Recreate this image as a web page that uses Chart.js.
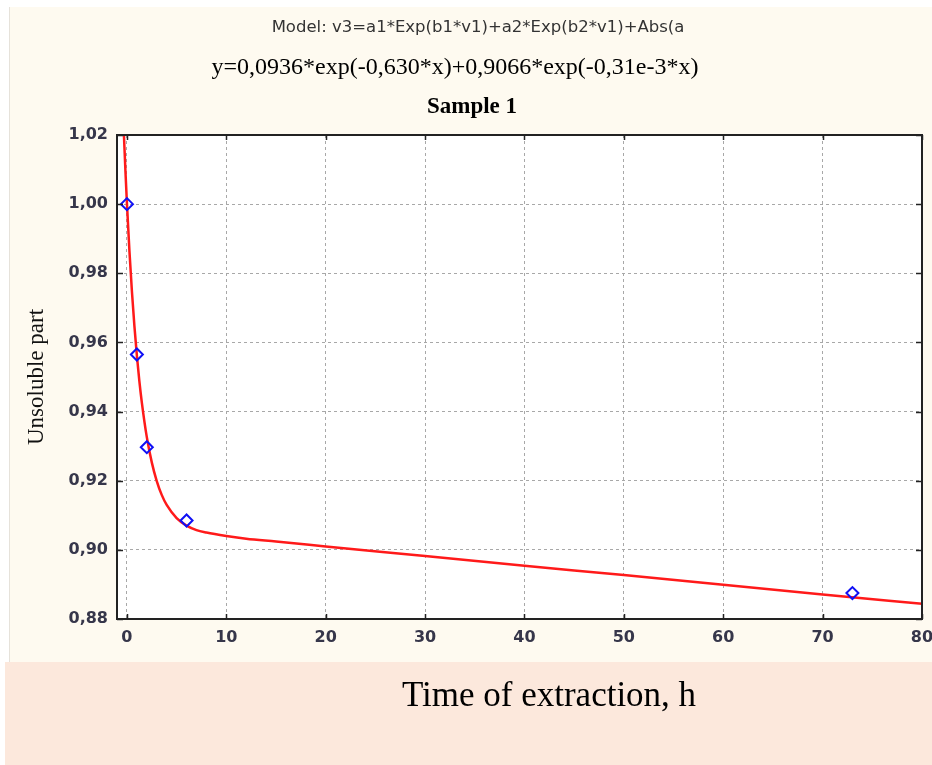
<!DOCTYPE html>
<html>
<head>
<meta charset="utf-8">
<title>Sample 1</title>
<script src="https://cdn.jsdelivr.net/npm/chart.js@4.4.1/dist/chart.umd.min.js"></script>
<style>
  html, body { margin: 0; padding: 0; background: #ffffff; }
  #wrap { width: 932px; height: 765px; position: relative; }
</style>
</head>
<body>
<div id="wrap"><canvas id="myChartSample"></canvas></div>
<script>
// measured points (blue diamonds)
const measuredX = [0, 1, 2, 6, 73];
const measuredY = [1.0, 0.9565, 0.9297, 0.9085, 0.8875];

// fitted curve
const curveX = [-0.3, -0.15, 0, 0.25, 0.5, 0.75, 1, 1.25, 1.5, 2, 2.5, 3, 3.5, 4, 5, 6, 7, 8, 10, 12, 15, 20, 30, 40, 50, 60, 70, 80];
const curveY = [1.0198, 1.0095, 1.0002, 0.9865, 0.9748, 0.9648, 0.9562, 0.9488, 0.9426, 0.9326, 0.9253, 0.9199, 0.9159, 0.913, 0.9092, 0.907, 0.9057, 0.905, 0.904, 0.9032, 0.9024, 0.901, 0.8982, 0.8954, 0.8927, 0.8899, 0.8871, 0.8844];

// tick labels
const xTicks = [0, 10, 20, 30, 40, 50, 60, 70, 80];
const yTicks = [0.88, 0.9, 0.92, 0.94, 0.96, 0.98, 1.0, 1.02];

const modelText = "Model: v3=a1*Exp(b1*v1)+a2*Exp(b2*v1)+Abs(a";
const equationText = "y=0,0936*exp(-0,630*x)+0,9066*exp(-0,31e-3*x)";
const sampleText = "Sample 1";
const xTitle = "Time of extraction, h";
const yTitle = "Unsoluble part";

const ctxSample = document.getElementById("myChartSample").getContext("2d");

/*------------------------------------------
fondos: papel crema, banda salmon abajo, area blanca
-------------------------------------------*/
const backgroundPlugin = {
  id: "backgroundPlugin",
  beforeDraw(chart) {
    const ctx = chart.ctx;
    const a = chart.chartArea;
    ctx.save();
    ctx.fillStyle = "#ffffff";
    ctx.fillRect(0, 0, chart.width, chart.height);
    ctx.fillStyle = "#fefaf0";
    ctx.fillRect(9, 7, chart.width - 9, 655);
    ctx.fillStyle = "#e6e2da";
    ctx.fillRect(9, 7, 1, 655);
    ctx.fillStyle = "#fce8dc";
    ctx.fillRect(5, 662, chart.width - 5, chart.height - 662);
    ctx.fillStyle = "#ffffff";
    ctx.fillRect(a.left, a.top, a.right - a.left, a.bottom - a.top);
    ctx.restore();
  },
};

/*------------------------------------------
marco, ticks hacia adentro y textos
-------------------------------------------*/
const framePlugin = {
  id: "framePlugin",
  afterDraw(chart) {
    const ctx = chart.ctx;
    const a = chart.chartArea;
    const xs = chart.scales.x;
    const ys = chart.scales.y;
    ctx.save();
    ctx.strokeStyle = "#222222";
    ctx.lineWidth = 2;
    ctx.beginPath();
    ctx.moveTo(a.left, a.top);
    ctx.lineTo(a.right, a.top);
    ctx.lineTo(a.right, a.bottom);
    ctx.stroke();

    ctx.lineWidth = 1.5;
    ctx.beginPath();
    xTicks.forEach((v) => {
      const px = Math.round(xs.getPixelForValue(v)) + 0.5;
      ctx.moveTo(px, a.bottom);
      ctx.lineTo(px, a.bottom - 5);
      ctx.moveTo(px, a.top);
      ctx.lineTo(px, a.top + 5);
    });
    yTicks.forEach((v) => {
      const py = Math.round(ys.getPixelForValue(v)) + 0.5;
      ctx.moveTo(a.left, py);
      ctx.lineTo(a.left + 6, py);
      ctx.moveTo(a.right, py);
      ctx.lineTo(a.right - 6, py);
    });
    ctx.stroke();

    ctx.textAlign = "center";
    ctx.textBaseline = "middle";
    ctx.fillStyle = "#333333";
    ctx.font = "16.5px 'DejaVu Sans'";
    ctx.fillText(modelText, 478, 28);
    ctx.fillStyle = "#000000";
    ctx.font = "24px 'Liberation Serif'";
    ctx.fillText(equationText, 455, 68);
    ctx.font = "bold 23px 'Liberation Serif'";
    ctx.fillText(sampleText, 472, 107);
    ctx.font = "35px 'Liberation Serif'";
    ctx.fillText(xTitle, 549, 697);
    ctx.restore();
  },
};

const myChartSample = new Chart(ctxSample, {
  type: "scatter",
  data: {
    datasets: [
      {
        label: "Sample 1",
        data: measuredX.map((x, i) => ({ x: x, y: measuredY[i] })),
        pointStyle: "rectRot",
        pointRadius: 6,
        pointBorderWidth: 2,
        pointBorderColor: "#1010f5",
        pointBackgroundColor: "rgba(0,0,0,0)",
        showLine: false,
      },
      {
        label: "Model",
        data: curveX.map((x, i) => ({ x: x, y: curveY[i] })),
        showLine: true,
        borderColor: "#ff1a1a",
        borderWidth: 2.5,
        pointRadius: 0,
        cubicInterpolationMode: "monotone",
      },
    ],
  },
  options: {
    responsive: true,
    maintainAspectRatio: false,
    animation: false,
    layout: {
      padding: { top: 135, right: 10, left: 0, bottom: 0 },
    },
    plugins: {
      legend: { display: false },
      tooltip: { enabled: false },
    },
    scales: {
      x: {
        type: "linear",
        min: -1,
        max: 80,
        afterBuildTicks: (scale) => {
          scale.ticks = xTicks.map((v) => ({ value: v }));
        },
        afterFit: (scale) => {
          scale.height = 146;
          scale.paddingLeft = 0;
          scale.paddingRight = 0;
        },
        ticks: {
          autoSkip: false,
          maxRotation: 0,
          padding: 9,
          color: "#36364a",
          font: { family: "DejaVu Sans", size: 16, weight: "bold" },
        },
        grid: {
          color: "#a8a8a8",
          lineWidth: 1,
          drawTicks: false,
        },
        border: { color: "#222222", width: 2, dash: [3, 3] },
      },
      y: {
        min: 0.88,
        max: 1.02,
        afterBuildTicks: (scale) => {
          scale.ticks = yTicks.map((v) => ({ value: v }));
        },
        afterFit: (scale) => {
          scale.width = 117;
          scale.paddingTop = 0;
          scale.paddingBottom = 0;
        },
        ticks: {
          autoSkip: false,
          padding: 9,
          color: "#36364a",
          font: { family: "DejaVu Sans", size: 16, weight: "bold" },
          callback: (value) => value.toFixed(2).replace(".", ","),
        },
        grid: {
          color: "#a8a8a8",
          lineWidth: 1,
          drawTicks: false,
        },
        border: { color: "#222222", width: 2, dash: [3, 3] },
        title: {
          display: true,
          text: yTitle,
          color: "#111111",
          font: { family: "Liberation Serif", size: 23 },
          padding: { top: 23, bottom: 0 },
        },
      },
    },
  },
  plugins: [backgroundPlugin, framePlugin],
});
</script>
</body>
</html>
